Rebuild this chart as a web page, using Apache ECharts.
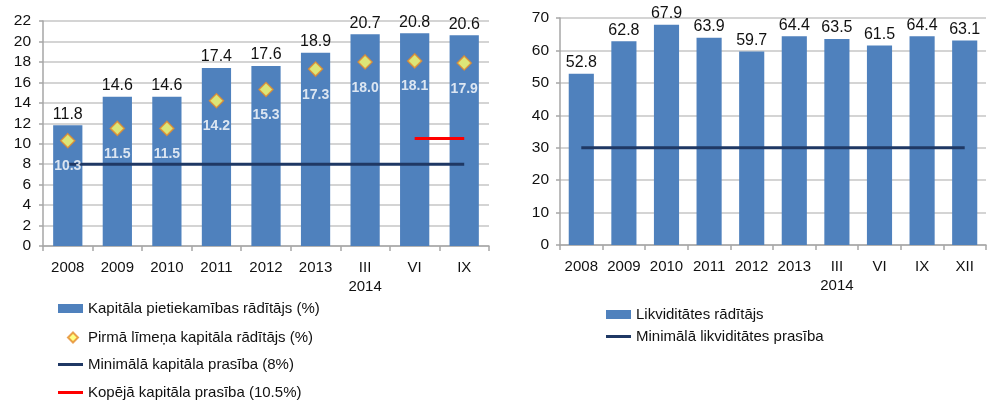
<!DOCTYPE html>
<html>
<head>
<meta charset="utf-8">
<style>
  html, body { margin: 0; padding: 0; background: #fff; }
  #main { width: 987px; height: 402px; }
</style>
<script src="https://cdn.jsdelivr.net/npm/echarts@6/dist/echarts.min.js"></script>
</head>
<body>
<div id="main"></div>
<script>
  // 左图：资本充足率
  var capCats = ['2008', '2009', '2010', '2011', '2012', '2013', 'III\n2014', 'VI', 'IX'];
  var capitalRatio = [11.8, 14.6, 14.6, 17.4, 17.6, 18.9, 20.7, 20.8, 20.6];
  var tier1Ratio = [10.3, 11.5, 11.5, 14.2, 15.3, 17.3, 18.0, 18.1, 17.9];
  var minCapital = [8, 8, 8, 8, 8, 8, 8, 8, 8];
  var totalCapital = [null, null, null, null, null, null, null, 10.5, 10.5];

  // 右图：流动性
  var liqCats = ['2008', '2009', '2010', '2011', '2012', '2013', 'III\n2014', 'VI', 'IX', 'XII'];
  var liquidity = [52.8, 62.8, 67.9, 63.9, 59.7, 64.4, 63.5, 61.5, 64.4, 63.1];
  var minLiquidity = [30, 30, 30, 30, 30, 30, 30, 30, 30, 30];

  var FONT = 'Liberation Sans, Arial, sans-serif';
  var BLUE = '#4f81bd';
  var NAVY = '#1f3864';
  var GRID_C = '#c6c6c6';
  var AXIS_C = '#a6a6a6';

  function xAxisCfg (idx, cats) {
    return {
      type: 'category', gridIndex: idx, data: cats,
      axisLine: { lineStyle: { color: AXIS_C, width: 1.5 } },
      axisTick: { show: true, length: 5, lineStyle: { color: AXIS_C, width: 1.5 } },
      axisLabel: { color: '#111', fontSize: 15, fontFamily: FONT, margin: 12, lineHeight: 19, interval: 0 }
    }
  }
  function yAxisCfg (idx, max, step, margin) {
    return {
      type: 'value', gridIndex: idx, min: 0, max: max, interval: step,
      axisLine: { show: true, lineStyle: { color: AXIS_C, width: 1.5 } },
      axisTick: { show: true, length: 4, lineStyle: { color: AXIS_C, width: 1.5 } },
      splitLine: { lineStyle: { color: GRID_C, width: 1.5 } },
      axisLabel: { color: '#111', fontSize: 15.5, fontFamily: FONT, margin: margin }
    }
  }
  // 每个图例单独放一行
  function legendItem (name, left, top, w, h, icon, textPad) {
    return {
      orient: 'vertical', left: left, top: top, padding: 0,
      itemWidth: w, itemHeight: h,
      textStyle: { fontSize: 15, color: '#111', fontFamily: FONT, padding: [0, 0, 0, textPad || 0] },
      data: [{ name: name, icon: icon }]
    }
  }
  function fmt1 (p) { return p.value.toFixed(1) }

  var myChart = echarts.init(document.getElementById('main'))
  myChart.setOption({
    animation: false,
    textStyle: { fontFamily: FONT },
    grid: [
      { left: 43, top: 21, width: 446, height: 225 },
      { left: 560, top: 18, width: 426, height: 227 }
    ],
    xAxis: [xAxisCfg(0, capCats), xAxisCfg(1, liqCats)],
    yAxis: [yAxisCfg(0, 22, 2, 12), yAxisCfg(1, 70, 10, 11)],
    legend: [
      legendItem('Kapitāla pietiekamības rādītājs (%)', 58, 301, 25, 9, 'rect'),
      legendItem('Pirmā līmeņa kapitāla rādītājs (%)', 67, 330, 10, 10, 'diamond', 5),
      legendItem('Minimālā kapitāla prasība (8%)', 58, 357, 25, 3, 'rect'),
      legendItem('Kopējā kapitāla prasība (10.5%)', 58, 385, 25, 3, 'rect'),
      legendItem('Likviditātes rādītājs', 606, 307, 25, 9, 'rect'),
      legendItem('Minimālā likviditātes prasība', 606, 329, 25, 3, 'rect')
    ],
    series: [
      {
        name: 'Kapitāla pietiekamības rādītājs (%)', type: 'bar',
        xAxisIndex: 0, yAxisIndex: 0, data: capitalRatio,
        barCategoryGap: '41%',
        itemStyle: { color: BLUE },
        label: { show: true, position: 'top', distance: 3, color: '#111', fontSize: 16, fontFamily: FONT, formatter: fmt1 }
      },
      {
        name: 'Minimālā kapitāla prasība (8%)', type: 'line',
        xAxisIndex: 0, yAxisIndex: 0, data: minCapital,
        symbol: 'none', lineStyle: { color: NAVY, width: 3 }, itemStyle: { color: NAVY }, z: 3
      },
      {
        name: 'Kopējā kapitāla prasība (10.5%)', type: 'line',
        xAxisIndex: 0, yAxisIndex: 0, data: totalCapital,
        symbol: 'none', lineStyle: { color: '#ff0000', width: 3 }, itemStyle: { color: '#ff0000' }, z: 3
      },
      {
        name: 'Pirmā līmeņa kapitāla rādītājs (%)', type: 'scatter',
        xAxisIndex: 0, yAxisIndex: 0, data: tier1Ratio,
        symbol: 'diamond', symbolSize: 14,
        itemStyle: { color: '#ffff66', borderColor: '#e58a2a', borderWidth: 1.5 },
        label: { show: true, position: 'bottom', distance: 11, color: '#fff', fontWeight: 'bold', fontSize: 14, fontFamily: FONT, formatter: fmt1 },
        z: 4
      },
      {
        name: 'Likviditātes rādītājs', type: 'bar',
        xAxisIndex: 1, yAxisIndex: 1, data: liquidity,
        barCategoryGap: '41%',
        itemStyle: { color: BLUE },
        label: { show: true, position: 'top', distance: 3, color: '#111', fontSize: 16, fontFamily: FONT, formatter: fmt1 }
      },
      {
        name: 'Minimālā likviditātes prasība', type: 'line',
        xAxisIndex: 1, yAxisIndex: 1, data: minLiquidity,
        symbol: 'none', lineStyle: { color: NAVY, width: 3 }, itemStyle: { color: NAVY }, z: 3
      }
    ]
  })
</script>
</body>
</html>
